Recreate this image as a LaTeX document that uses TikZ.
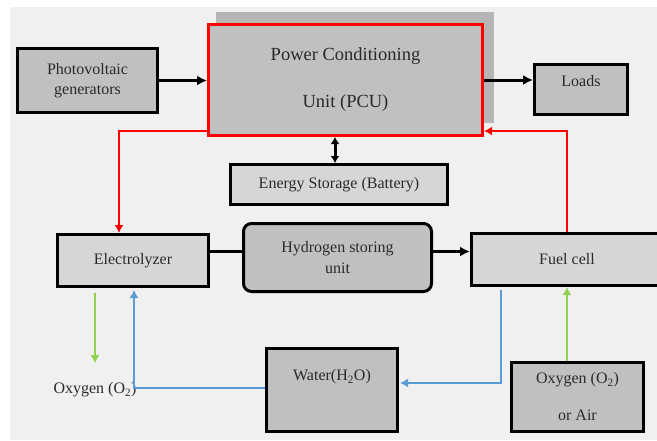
\documentclass[tikz,border=0pt]{standalone}
\usepackage{fontspec}
\setmainfont{Liberation Serif}
\usepackage{tikz}
\usetikzlibrary{calc}
\usetikzlibrary{positioning}
\usetikzlibrary{arrows.meta}

\definecolor{bggray}{HTML}{F0F0F0}
\definecolor{shadowgray}{HTML}{B6B6B6}
\definecolor{darkbox}{HTML}{C0C0C0}
\definecolor{lightbox}{HTML}{D6D6D6}
\definecolor{flowgreen}{HTML}{92D050}
\definecolor{flowblue}{HTML}{5B9BD5}
\definecolor{inktext}{HTML}{2A2A2A}

\begin{document}
\begin{tikzpicture}[x=1pt,y=-1pt,>={Latex[length=8pt,width=9pt]},
	unit/.style={draw, line width=3pt, fill=darkbox, inner sep=0pt, text=inktext, font=\fontsize{16}{20}\selectfont},
	lightunit/.style={unit, fill=lightbox},
	blkflow/.style={line width=3pt, >={Latex[length=10pt,width=10pt]}},
	redflow/.style={red, line width=2.5pt},
	greenflow/.style={flowgreen, line width=2.5pt},
	blueflow/.style={flowblue, line width=1.5pt}]
			\clip (0,0) rectangle (657,440);
			\fill[bggray] (10,7) rectangle (657,440);
			\fill[shadowgray] (216,12) rectangle (494,123);
			
			\node[unit, align=center, minimum width=140, minimum height=64] (pv) at (87.5,80.5) {Photovoltaic\\generators};
			\node[unit, draw=red, align=center, minimum width=274, minimum height=111, font=\fontsize{18.5}{22}\selectfont] (pcu) at (345.5,80) {Power Conditioning\\[25pt]Unit (PCU)};
			\node[unit, minimum width=93, minimum height=50, text height=11pt, text depth=17pt] (loads) at (581,89.5) {Loads};
			\node[lightunit, minimum width=217, minimum height=40] (bat) at (339,184.5) {Energy Storage (Battery)};
			\node[lightunit, minimum width=151, minimum height=52] (ely) at (133,260.5) {Electrolyzer};
			\node[unit, rounded corners=8pt, align=center, minimum width=188, minimum height=68, font=\fontsize{16}{21}\selectfont] (h2) at (337.5,257.5) {Hydrogen storing\\unit};
			\node[lightunit, minimum width=191, minimum height=52] (fc) at (567,259.5) {Fuel cell};
			\node[unit, minimum width=131, minimum height=83, text height=12pt, text depth=31pt] (water) at (332,390) {Water(H\textsubscript{2}O)};
			\node[unit, align=center, minimum width=132, minimum height=69] (oxa) at (577.5,397) {Oxygen (O\textsubscript{2})\\[17pt]or Air};
			\node[text=inktext, font=\fontsize{16}{20}\selectfont] (oxout) at (95,390) {Oxygen (O\textsubscript{2})};
			
			\draw[blkflow, ->] (pv.east) -- (pv.east -| pcu.west);
			\draw[blkflow, ->] (pcu.east) -- (pcu.east -| loads.west);
			\draw[blkflow, {Latex[length=7pt,width=9pt]}-{Latex[length=7pt,width=9pt]}] ([xshift=-4pt]bat.north) -- ([xshift=-4pt]bat.north |- pcu.south);
			
			\draw[redflow, ->] ([yshift=6pt]pcu.south west) -| ([xshift=-14pt]ely.north);
			\draw[redflow, ->] (fc.north) |- ([yshift=6pt]pcu.south east);
			
			\draw[blkflow] ([yshift=6pt]h2.west) -- ([yshift=6pt]h2.west -| ely.east);
			\draw[blkflow, ->] ([yshift=6pt]h2.east) -- ([yshift=6pt]h2.east -| fc.west);
			
			\draw[greenflow, ->, shorten <=5pt, shorten >=16pt] (ely.south -| oxout.north) -- (oxout.north);
			\draw[greenflow, ->] (oxa.north -| fc.south) -- (fc.south);
			
			\draw[blueflow, ->, shorten >=2pt] ([yshift=2pt]water.west) -| ([xshift=1pt]ely.south);
			\draw[blueflow, ->, shorten <=3pt, shorten >=1pt] ([xshift=-66pt]fc.south) |- ([yshift=7pt]water.east);
		\end{tikzpicture}
\end{document}
